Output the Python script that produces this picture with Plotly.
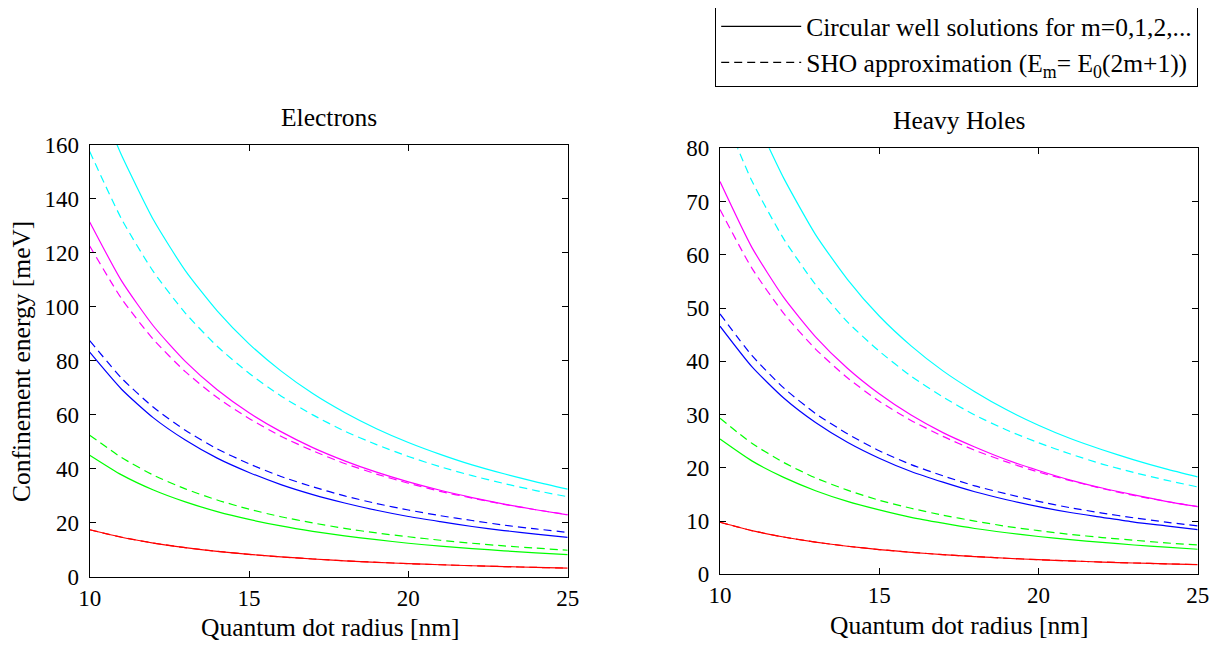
import plotly.graph_objects as go

# ---------------- data ----------------
radius = [10, 11, 12, 13, 14, 15, 16, 17, 18, 19, 20, 21, 22, 23, 24, 25]

# Electrons: circular well solutions (solid)
e_m0 = [17.5, 14.72, 12.56, 10.85, 9.48, 8.38, 7.44, 6.67, 6.00, 5.44, 4.95, 4.53, 4.17, 3.84, 3.55, 3.30]
e_m1 = [45.1, 37.8, 32.2, 27.8, 24.2, 21.3, 18.9, 16.9, 15.2, 13.8, 12.5, 11.4, 10.5, 9.7, 8.9, 8.3]
e_m2 = [83.2, 69.5, 58.9, 50.7, 44.0, 38.7, 34.2, 30.5, 27.4, 24.7, 22.4, 20.5, 18.7, 17.2, 15.9, 14.7]
e_m3 = [131.4, 109.6, 92.9, 79.8, 69.3, 60.8, 53.8, 47.9, 43.0, 38.8, 35.2, 32.1, 29.4, 27.0, 24.9, 23.0]
radius_e_m4 = [10.8, 11, 12, 13, 14, 15, 16, 17, 18, 19, 20, 21, 22, 23, 24, 25]
e_m4 = [161.6, 156.1, 132.2, 113.4, 98.5, 86.3, 76.3, 67.9, 60.9, 54.9, 49.8, 45.4, 41.5, 38.2, 35.2, 32.5]
# Electrons: SHO approximation (dashed)
e_sho0 = [17.5, 14.72, 12.56, 10.85, 9.48, 8.38, 7.44, 6.67, 6.00, 5.44, 4.95, 4.53, 4.17, 3.84, 3.55, 3.30]
e_sho1 = [52.5, 44.2, 37.7, 32.6, 28.5, 25.1, 22.3, 20.0, 18.0, 16.3, 14.9, 13.6, 12.5, 11.5, 10.7, 9.9]
e_sho2 = [87.5, 73.6, 62.8, 54.3, 47.4, 41.9, 37.2, 33.4, 30.0, 27.2, 24.8, 22.7, 20.9, 19.2, 17.8, 16.5]
e_sho3 = [122.5, 103.0, 87.9, 76.0, 66.4, 58.7, 52.1, 46.7, 42.0, 38.1, 34.7, 31.7, 29.2, 26.9, 24.9, 23.1]
e_sho4 = [157.5, 132.5, 113.0, 97.7, 85.4, 75.4, 67.0, 60.0, 54.0, 49.0, 44.6, 40.8, 37.5, 34.6, 32.0, 29.7]

# Heavy holes: circular well solutions (solid)
h_m0 = [9.78, 8.21, 7.00, 6.04, 5.27, 4.65, 4.13, 3.69, 3.33, 3.01, 2.74, 2.51, 2.30, 2.12, 1.96, 1.82]
h_m1 = [25.4, 21.3, 18.2, 15.7, 13.7, 12.1, 10.7, 9.6, 8.6, 7.8, 7.1, 6.5, 6.0, 5.5, 5.1, 4.7]
h_m2 = [46.6, 39.0, 33.1, 28.5, 24.8, 21.8, 19.3, 17.3, 15.5, 14.0, 12.7, 11.6, 10.7, 9.8, 9.1, 8.4]
h_m3 = [73.75, 61.4, 52.0, 44.6, 38.7, 33.9, 29.9, 26.6, 23.9, 21.5, 19.5, 17.7, 16.2, 14.9, 13.7, 12.7]
radius_h_m4 = [11.5, 12, 13, 14, 15, 16, 17, 18, 19, 20, 21, 22, 23, 24, 25]
h_m4 = [80.6, 74.4, 63.8, 55.4, 48.5, 42.9, 38.2, 34.3, 30.9, 28.0, 25.5, 23.4, 21.5, 19.8, 18.3]
# Heavy holes: SHO approximation (dashed)
h_sho0 = [9.78, 8.21, 7.00, 6.04, 5.27, 4.65, 4.13, 3.69, 3.33, 3.01, 2.74, 2.51, 2.30, 2.12, 1.96, 1.82]
h_sho1 = [29.3, 24.6, 21.0, 18.1, 15.8, 13.9, 12.4, 11.1, 10.0, 9.0, 8.2, 7.5, 6.9, 6.4, 5.9, 5.5]
h_sho2 = [48.9, 41.1, 35.0, 30.2, 26.4, 23.2, 20.6, 18.5, 16.6, 15.1, 13.7, 12.5, 11.5, 10.6, 9.8, 9.1]
h_sho3 = [68.5, 57.5, 49.0, 42.3, 36.9, 32.5, 28.9, 25.9, 23.3, 21.1, 19.2, 17.6, 16.1, 14.8, 13.7, 12.7]
h_sho4 = [88.0, 73.9, 63.0, 54.4, 47.4, 41.9, 37.2, 33.3, 29.9, 27.1, 24.7, 22.6, 20.7, 19.1, 17.7, 16.4]

x_ticks = [10, 15, 20, 25]
y_ticks_e = [0, 20, 40, 60, 80, 100, 120, 140, 160]
y_ticks_h = [0, 10, 20, 30, 40, 50, 60, 70, 80]

colors = ["#FF0000", "#00FF00", "#0000FF", "#FF00FF", "#00FFFF"]
FONT = "Liberation Serif"
FS_TICK = 23
FS_LABEL = 25.5
FS_LEG = 25.5
DASH = "8px,5px"

fig = go.Figure()

def add(xs, ys, color, dash, xa, ya):
    fig.add_trace(go.Scatter(x=xs, y=ys, mode="lines", showlegend=False,
                             line=dict(color=color, width=1.2, dash=dash, shape="spline", smoothing=0.6),
                             xaxis=xa, yaxis=ya, hoverinfo="skip"))

e_solid = [(radius, e_m0), (radius, e_m1), (radius, e_m2), (radius, e_m3), (radius_e_m4, e_m4)]
e_dash = [e_sho0, e_sho1, e_sho2, e_sho3, e_sho4]
h_solid = [(radius, h_m0), (radius, h_m1), (radius, h_m2), (radius, h_m3), (radius_h_m4, h_m4)]
h_dash = [h_sho0, h_sho1, h_sho2, h_sho3, h_sho4]

for i in range(5):
    add(e_solid[i][0], e_solid[i][1], colors[i], "solid", "x", "y")
    add(radius, e_dash[i], colors[i], DASH, "x", "y")
    add(h_solid[i][0], h_solid[i][1], colors[i], "solid", "x2", "y2")
    add(radius, h_dash[i], colors[i], DASH, "x2", "y2")

# legend entries
fig.add_trace(go.Scatter(x=[None], y=[None], mode="lines", name="Circular well solutions for m=0,1,2,...",
                         line=dict(color="black", width=1.2), xaxis="x", yaxis="y"))
fig.add_trace(go.Scatter(x=[None], y=[None], mode="lines",
                         name="SHO approximation (E<sub>m</sub>= E<sub>0</sub>(2m+1))",
                         line=dict(color="black", width=1.2, dash=DASH), xaxis="x", yaxis="y"))

# the page body adds an 8px margin; work in window pixels and convert
OFF = 8
W, H = 1218, 641
def px(x):
    return (x - OFF) / W
def py(y):
    return 1 - (y - OFF) / H

axis_common = dict(showline=True, linecolor="black", linewidth=1.2, mirror="ticks",
                   ticks="inside", ticklen=6, tickcolor="black", tickwidth=1,
                   showgrid=False, zeroline=False, automargin=False,
                   tickfont=dict(family=FONT, size=FS_TICK, color="black"))

fig.update_layout(
    width=W, height=H,
    margin=dict(l=0, r=0, t=0, b=0, autoexpand=False),
    paper_bgcolor="white", plot_bgcolor="white",
    font=dict(family=FONT, size=FS_TICK, color="black"),
    xaxis=dict(domain=[px(89.7), px(567.7)], range=[10, 25], tickvals=x_ticks, anchor="y", **axis_common),
    yaxis=dict(domain=[py(577), py(144.7)], range=[0, 160], tickvals=y_ticks_e, anchor="x",
               ticklabelstandoff=5, **axis_common),
    xaxis2=dict(domain=[px(720), px(1197.7)], range=[10, 25], tickvals=x_ticks, anchor="y2", **axis_common),
    yaxis2=dict(domain=[py(574.3), py(148.3)], range=[0, 80], tickvals=y_ticks_h, anchor="x2",
                ticklabelstandoff=5, **axis_common),
    showlegend=True,
    legend=dict(x=px(715), y=py(2), xanchor="left", yanchor="top",
                bordercolor="black", borderwidth=1.2, bgcolor="white",
                font=dict(family=FONT, size=FS_LEG, color="black"),
                itemwidth=80, tracegroupgap=0),
)

annotations = [
    dict(text="Electrons", x=px(328.7), y=py(117), xanchor="center", yanchor="middle"),
    dict(text="Heavy Holes", x=px(959), y=py(121), xanchor="center", yanchor="middle"),
    dict(text="Quantum dot radius [nm]", x=px(330), y=py(627), xanchor="center", yanchor="middle"),
    dict(text="Quantum dot radius [nm]", x=px(959), y=py(625), xanchor="center", yanchor="middle"),
    dict(text="Confinement energy [meV]", x=px(22), y=py(362), xanchor="center", yanchor="middle", textangle=-90),
]
for a in annotations:
    a.update(xref="paper", yref="paper", showarrow=False, font=dict(family=FONT, size=FS_LABEL, color="black"))
fig.update_layout(annotations=annotations)

fig.write_html("out.html")
